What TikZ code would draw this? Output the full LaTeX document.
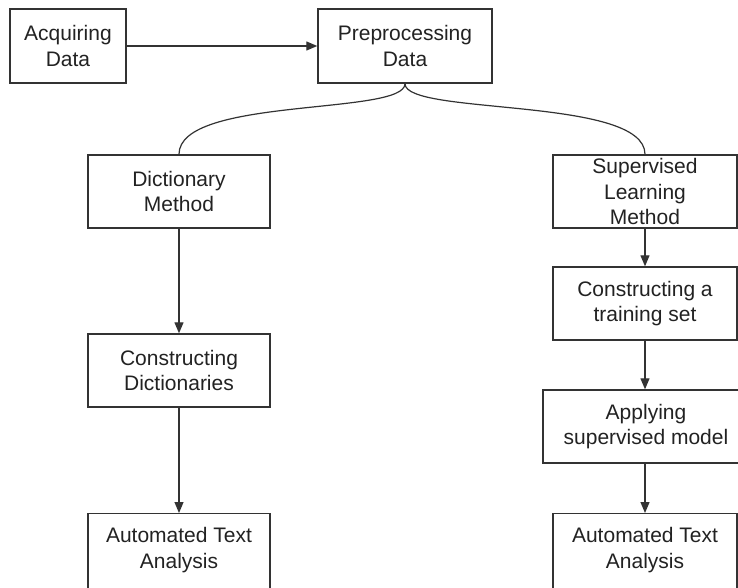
\documentclass[tikz,border=0pt]{standalone}
\usepackage{fontspec}
\setmainfont{Liberation Sans}
\usetikzlibrary{arrows.meta,calc}
\definecolor{ln}{HTML}{333333}
\definecolor{tx}{HTML}{222222}
\begin{document}
\begin{tikzpicture}[x=1pt,y=-1pt,
  box/.style={draw=ln, line width=1.4pt, rectangle, inner sep=0pt, align=center,
    text=tx, font=\fontsize{21}{25.5}\selectfont},
  lbl/.style={inner sep=0pt, align=center, text=tx, font=\fontsize{21}{25.5}\selectfont},
  arr/.style={draw=ln, line width=1.2pt, -{Triangle[length=11pt,width=9pt]}},
  link/.style={draw=ln, line width=1.2pt}]
\useasboundingbox (0,0) rectangle (738,588);
\clip (0,0) rectangle (738,588);
\fill[white] (0,0) rectangle (738,588);
% top row
\node[box, minimum width=116pt, minimum height=74pt] (acq) at (68,46) {Acquiring\\Data};
\node[box, minimum width=174pt, minimum height=74pt] (pre) at (405,46) {Preprocessing\\Data};
% left column
\node[box, minimum width=182pt, minimum height=73pt] (dict) at (179,191.5) {Dictionary\\Method};
\node[box, minimum width=182pt, minimum height=73pt] (cdict) at (179,370.5) {Constructing\\Dictionaries};
\node[box, minimum width=182pt, minimum height=82pt, anchor=north] (ataL) at (179,513) {};
\node[lbl] (ataLt) at (179,550) {Automated Text\\Analysis};
% right column
\node[box, minimum width=184pt, minimum height=73pt] (sup) at (645,191.5) {Supervised\\Learning\\Method};
\node[box, minimum width=184pt, minimum height=73pt] (train) at (645,303.5) {Constructing a\\training set};
\node[box, minimum width=206pt, minimum height=73pt] (apply) at (646,426.5) {Applying\\supervised model};
\node[box, minimum width=184pt, minimum height=82pt, anchor=north] (ataR) at (645,513) {};
\node[lbl] (ataRt) at (645,550) {Automated Text\\Analysis};
% connectors
\draw[arr] (acq.east) -- (pre.west);
\draw[link] (pre.south) .. controls ($(pre.south)+(0,32)$) and ($(dict.north)+(0,-58)$) .. (dict.north);
\draw[link] (pre.south) .. controls ($(pre.south)+(0,32)$) and ($(sup.north)+(0,-58)$) .. (sup.north);
\draw[arr] (dict.south) -- (cdict.north);
\draw[arr] (cdict.south) -- (ataL.north);
\draw[arr] (sup.south) -- (train.north);
\draw[arr] (train.south) -- (train.south |- apply.north);
\draw[arr] (train.south |- apply.south) -- (train.south |- ataR.north);
\end{tikzpicture}
\end{document}
